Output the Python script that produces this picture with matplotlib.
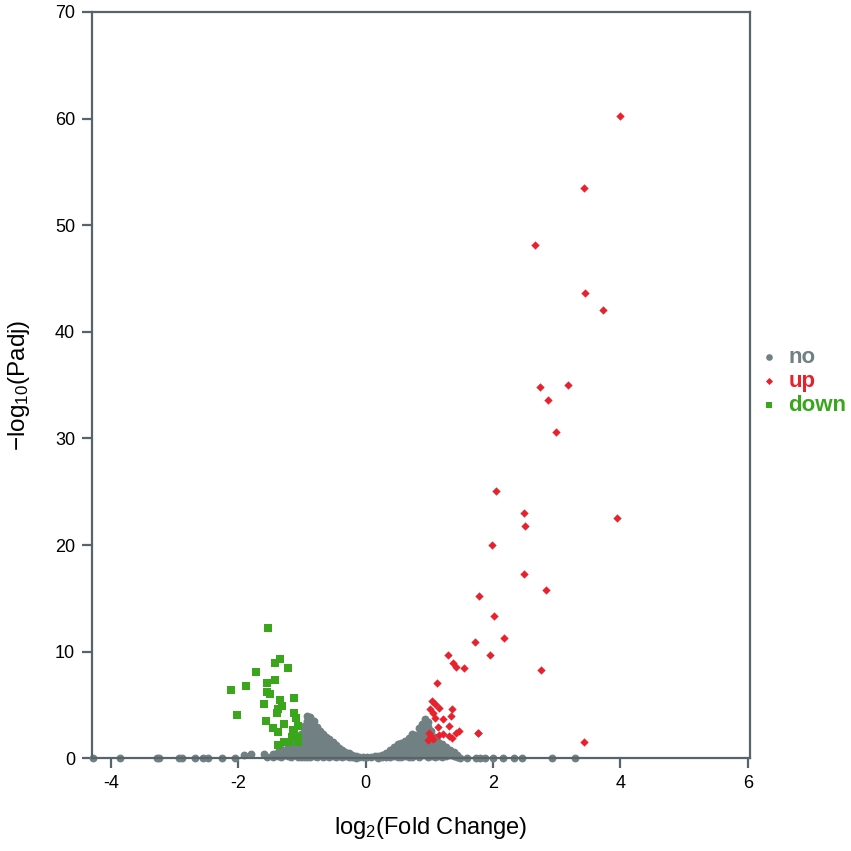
import matplotlib
matplotlib.use('Agg')
import matplotlib.pyplot as plt

plt.rcParams['font.family'] = ['Liberation Sans', 'DejaVu Sans']
plt.rcParams['mathtext.default'] = 'regular'
plt.rcParams['axes.unicode_minus'] = False

# "up" genes (red)
up_x = [3.99, 3.42, 2.66, 3.44, 3.73, 2.73, 3.18, 2.87, 2.99, 2.05, 2.48, 2.50,
        1.99, 2.49, 3.94, 2.83, 1.78, 2.02, 2.17, 1.72, 1.29, 1.95, 1.37, 1.41,
        1.55, 2.75, 1.12, 3.42, 1.76, 1.04, 1.08, 1.01, 1.15, 1.36, 1.06, 1.09,
        1.34, 1.22, 1.13, 1.31, 1.00, 1.15, 1.22, 1.30, 1.42, 1.46, 1.36, 1.02,
        0.98, 1.06, 1.77]
up_y = [60.2, 53.5, 48.1, 43.6, 42.0, 34.8, 35.0, 33.6, 30.6, 25.1, 23.0, 21.8,
        20.0, 17.3, 22.5, 15.8, 15.2, 13.3, 11.3, 10.9, 9.7, 9.7, 8.9, 8.6,
        8.45, 8.3, 7.1, 1.53, 2.4, 5.4, 5.07, 4.6, 4.75, 4.66, 4.2, 3.8,
        3.94, 3.66, 2.94, 3.03, 2.38, 2.16, 2.3, 2.13, 2.38, 2.56, 1.88, 2.06,
        1.69, 1.85, 2.38]

# "down" genes (green)
down_x = [-1.53, -1.34, -1.43, -1.22, -1.73, -1.43, -1.55, -1.88, -2.11, -1.55,
          -1.50, -1.34, -1.12, -1.59, -1.31, -1.37, -1.39, -1.12, -2.02, -1.10,
          -1.57, -1.29, -1.46, -1.06, -1.38, -1.15, -1.12, -1.16, -1.06, -1.29,
          -1.38, -1.21, -1.06]
down_y = [12.26, 9.3, 8.9, 8.5, 8.07, 7.3, 7.07, 6.76, 6.38, 6.2,
          6.07, 5.5, 5.66, 5.07, 4.94, 4.66, 4.25, 4.25, 4.1, 3.8,
          3.5, 3.25, 2.88, 3.0, 2.47, 2.63, 2.25, 2.0, 2.0, 1.53,
          1.28, 1.56, 1.53]

# "no" genes (grey): columns of the volcano body
no_col_x = [-1.45, -1.38, -1.33, -1.27, -1.22, -1.17, -1.12, -1.07, -1.02, -0.97,
            -0.92, -0.87, -0.82, -0.77, -0.72, -0.67, -0.62, -0.57, -0.52, -0.47,
            -0.42, -0.37, -0.32, -0.27, -0.22, -0.16, -0.10, -0.04, 0.02, 0.08,
            0.14, 0.20, 0.26, 0.32, 0.38, 0.44, 0.50, 0.56, 0.62, 0.68,
            0.73, 0.78, 0.83, 0.88, 0.93, 0.98, 1.03, 1.08, 1.14, 1.20,
            1.26, 1.32, 1.38, 1.44]
no_col_y = [
    [0.4, 0.1], [0.6, 0.2], [0.9, 0.4, 0.1], [0.7, 0.3], [1.1, 0.6, 0.2],
    [1.4, 0.9, 0.4, 0.1], [1.7, 1.2, 0.7, 0.3], [1.9, 1.4, 0.9, 0.5, 0.1],
    [2.3, 1.8, 1.3, 0.8, 0.4, 0.1], [3.0, 2.5, 2.0, 1.5, 1.0, 0.5, 0.1],
    [4.0, 3.5, 3.0, 2.4, 1.9, 1.4, 0.9, 0.5, 0.1],
    [3.9, 3.3, 2.8, 2.3, 1.8, 1.3, 0.8, 0.4, 0.1],
    [3.5, 3.0, 2.5, 2.0, 1.5, 1.0, 0.6, 0.2],
    [2.9, 2.4, 1.9, 1.4, 0.9, 0.5, 0.1], [2.6, 2.1, 1.6, 1.1, 0.7, 0.3],
    [2.3, 1.8, 1.3, 0.8, 0.4, 0.1], [2.0, 1.5, 1.0, 0.6, 0.2],
    [1.85, 1.4, 0.9, 0.5, 0.1], [1.5, 1.0, 0.6, 0.2], [1.25, 0.8, 0.4, 0.1],
    [1.0, 0.6, 0.2], [0.75, 0.35, 0.1], [0.6, 0.25], [0.45, 0.15], [0.3, 0.1],
    [0.22, 0.05], [0.15], [0.1], [0.08], [0.12],
    [0.18], [0.25, 0.05], [0.35, 0.1], [0.5, 0.15], [0.8, 0.35, 0.1],
    [1.1, 0.6, 0.2], [1.3, 0.85, 0.4, 0.1], [1.45, 1.0, 0.55, 0.15],
    [1.6, 1.1, 0.6, 0.2], [1.9, 1.4, 0.9, 0.5, 0.1],
    [2.3, 1.8, 1.3, 0.8, 0.4, 0.1], [2.2, 1.7, 1.2, 0.7, 0.3],
    [2.8, 2.3, 1.8, 1.3, 0.8, 0.4, 0.1], [3.2, 2.7, 2.2, 1.7, 1.2, 0.7, 0.3],
    [3.7, 3.2, 2.7, 2.2, 1.7, 1.2, 0.7, 0.3],
    [3.4, 2.9, 2.4, 1.9, 1.4, 0.9, 0.5, 0.1], [2.6, 2.1, 1.6, 1.1, 0.6, 0.2],
    [2.0, 1.5, 1.0, 0.5, 0.1], [1.5, 1.0, 0.6, 0.2], [1.3, 0.8, 0.4, 0.1],
    [1.1, 0.6, 0.2], [0.8, 0.35], [0.6, 0.2], [0.35, 0.1],
]
# isolated grey points along the baseline
no_tail_x = [-4.29, -3.86, -3.28, -3.24, -2.94, -2.89, -2.68, -2.55, -2.47, -2.25,
             -2.05, -1.91, -1.80, -1.60, -1.55, -1.35,
             1.48, 1.59, 1.73, 1.80, 1.87, 2.00, 2.15, 2.33, 2.45, 2.92, 3.28]
no_tail_y = [0.05, 0.05, 0.05, 0.05, 0.05, 0.05, 0.05, 0.05, 0.05, 0.05,
             0.05, 0.3, 0.44, 0.44, 0.15, 0.9,
             0.05, 0.05, 0.05, 0.05, 0.05, 0.05, 0.05, 0.05, 0.05, 0.05, 0.05]

no_x, no_y = list(no_tail_x), list(no_tail_y)
for cx, ys in zip(no_col_x, no_col_y):
    no_x += [cx] * len(ys)
    no_y += ys

grey = '#718083'
red = '#e8212c'
green = '#39a61c'
spine_col = '#58646c'

fig = plt.figure(figsize=(8.51, 8.51), dpi=100)
ax = fig.add_axes([0.108, 0.109, 0.773, 0.877])

ax.scatter(no_x, no_y, s=32, c=grey, marker='o', linewidths=0, label='no', clip_on=False, zorder=2)
ax.scatter(up_x, up_y, s=18, c=red, marker='D', linewidths=0, label='up', clip_on=False, zorder=3)
ax.scatter(down_x, down_y, s=32, c=green, marker='s', linewidths=0, label='down', clip_on=False, zorder=3)

ax.set_xlim(-4.3, 6.03)
ax.set_ylim(0, 70)
ax.set_xticks([-4, -2, 0, 2, 4, 6])
ax.set_yticks([0, 10, 20, 30, 40, 50, 60, 70])

for sp in ax.spines.values():
    sp.set_color(spine_col)
    sp.set_linewidth(1.6)
ax.tick_params(direction='out', length=7, width=1.6, color=spine_col,
               labelsize=13, labelcolor='black', pad=5)

ax.set_xlabel('log$_2$(Fold Change)', fontsize=17)
ax.set_ylabel('−log$_{10}$(Padj)', fontsize=17.5)
ax.xaxis.set_label_coords(0.515, -0.076)
ax.yaxis.set_label_coords(-0.091, 0.5)

leg = ax.legend(loc='center left', bbox_to_anchor=(0.978, 0.505), frameon=False,
                handletextpad=0.3, labelspacing=0.15, handlelength=1.2,
                markerscale=0.85, prop={'weight': 'bold', 'size': 16})
for txt, col in zip(leg.get_texts(), [grey, red, green]):
    txt.set_color(col)

fig.savefig('out.png', dpi=100)
